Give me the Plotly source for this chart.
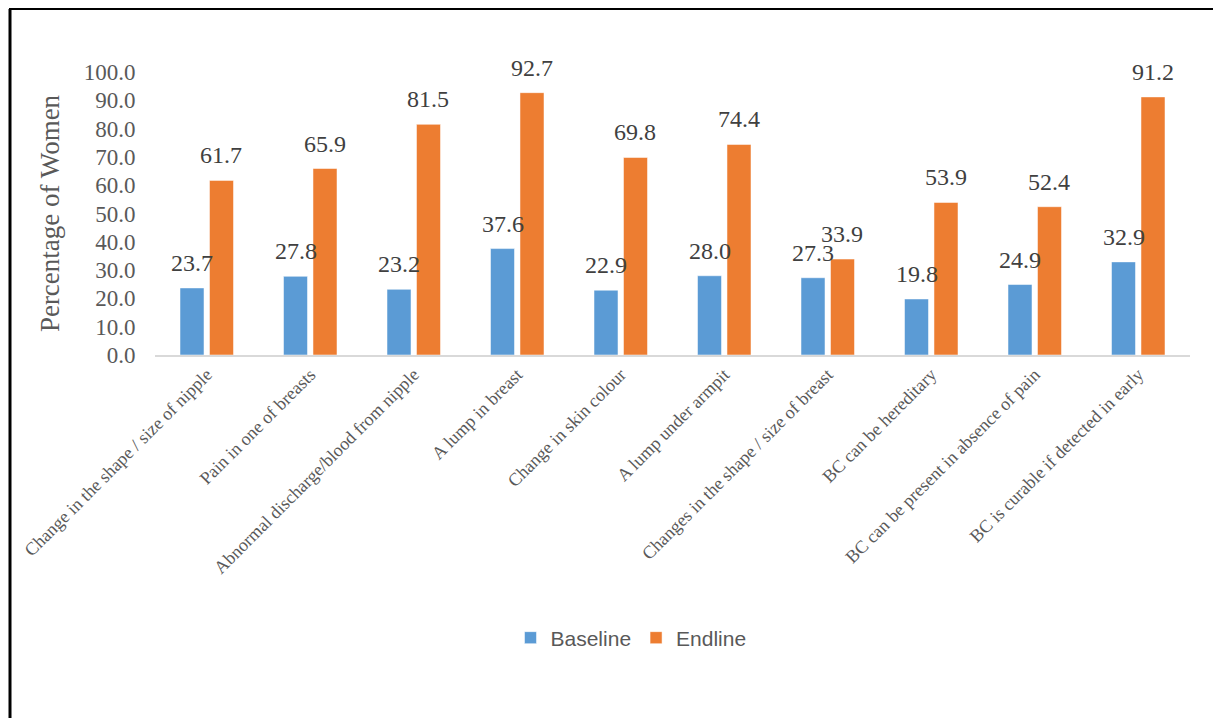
import plotly.graph_objects as go

categories = [
    "Change in the shape / size of nipple",
    "Pain in one of breasts",
    "Abnormal discharge/blood from nipple",
    "A lump in breast",
    "Change in skin colour",
    "A lump under armpit",
    "Changes in the shape / size of breast",
    "BC can be hereditary",
    "BC can be present in absence of pain",
    "BC is curable if detected in early",
]
baseline = [23.7, 27.8, 23.2, 37.6, 22.9, 28.0, 27.3, 19.8, 24.9, 32.9]
endline = [61.7, 65.9, 81.5, 92.7, 69.8, 74.4, 33.9, 53.9, 52.4, 91.2]

W, H = 1213, 718
ML, MR, MT, MB = 155, 23, 72, 363
plot_w = W - ML - MR
plot_h = H - MT - MB
bargap = 0.43
bargroupgap = 0.186
cat_px = plot_w / len(categories)
slot_px = cat_px * (1 - bargap) / 2

BLUE = "#5B9BD5"
ORANGE = "#ED7D31"
SERIF = "Liberation Serif"

fig = go.Figure()
fig.add_trace(go.Bar(name="Baseline", x=categories, y=baseline, marker_color=BLUE,
                     marker_line=dict(color="rgba(255,255,255,0.5)", width=1)))
fig.add_trace(go.Bar(name="Endline", x=categories, y=endline, marker_color=ORANGE,
                     marker_line=dict(color="rgba(255,255,255,0.5)", width=1)))

annotations = []
for series, sign in ((baseline, -1), (endline, 1)):
    for c, v in zip(categories, series):
        annotations.append(dict(
            x=c, y=v, xref="x", yref="y", text=f"{v:.1f}", showarrow=False,
            xshift=sign * slot_px / 2, yshift=25, yanchor="middle",
            font=dict(family=SERIF, size=24, color="#404040"),
        ))

def px_x(p):
    return (p - ML) / plot_w

def px_y(p):
    return (H - MB - p) / plot_h

shapes = [
    dict(type="line", xref="paper", yref="paper", x0=px_x(9), x1=px_x(W + 5),
         y0=px_y(9), y1=px_y(9), line=dict(color="black", width=2)),
    dict(type="line", xref="paper", yref="paper", x0=px_x(10), x1=px_x(10),
         y0=px_y(9), y1=px_y(H + 5), line=dict(color="black", width=3)),
]

fig.update_layout(
    width=W, height=H,
    margin=dict(l=ML, r=MR, t=MT, b=MB),
    paper_bgcolor="white", plot_bgcolor="white",
    barmode="group", bargap=bargap, bargroupgap=bargroupgap,
    annotations=annotations, shapes=shapes,
    legend=dict(orientation="h", x=px_x(631), xanchor="center", y=px_y(638), yanchor="middle",
                font=dict(family="Liberation Sans", size=21, color="#595959"),
                itemwidth=30, traceorder="normal"),
    showlegend=True,
)
fig.update_yaxes(range=[0, 100], dtick=10, tickformat=".1f", showgrid=False, showline=False,
                 zeroline=False, ticks="outside", ticklen=14, tickcolor="rgba(0,0,0,0)",
                 tickfont=dict(family=SERIF, size=23, color="#595959"),
                 title=dict(text="Percentage of Women", standoff=16,
                            font=dict(family=SERIF, size=27, color="#595959")))
fig.update_xaxes(showline=True, linecolor="#D9D9D9", linewidth=2, showgrid=False,
                 tickangle=-45, ticks="", tickfont=dict(family=SERIF, size=18, color="#595959"))

fig.write_html("out.html")
